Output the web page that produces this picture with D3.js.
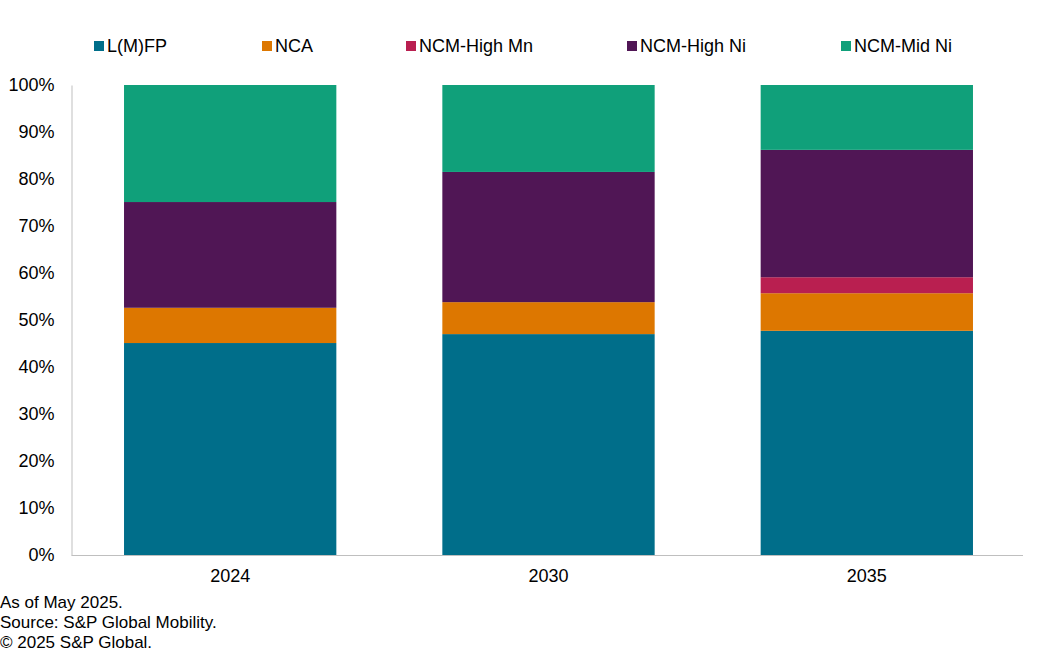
<!DOCTYPE html>
<html><head><meta charset="utf-8">
<script src="https://cdn.jsdelivr.net/npm/d3@7"></script>
<style>body{margin:0;background:#fff}svg{display:block;font-family:"Liberation Sans",Arial,sans-serif}</style>
</head><body><svg id="c" width="1037" height="654"></svg>
<script>
const categories = ["2024","2030","2035"];
const seriesNames = ["L(M)FP","NCA","NCM-High Mn","NCM-High Ni","NCM-Mid Ni"];
const colors = ["#006e8a","#dd7700","#b91f50","#501655","#10a07a"];
const lfp    = [45.1, 47.0, 47.7];
const nca    = [7.5, 6.8, 8.0];
const highMn = [0.0, 0.0, 3.4];
const highNi = [22.5, 27.7, 27.1];
const midNi  = [24.9, 18.5, 13.8];
const yTicks = [0,10,20,30,40,50,60,70,80,90,100];
const notes = ["As of May 2025.","Source: S&P Global Mobility.","© 2025 S&P Global."];

const values = [lfp, nca, highMn, highNi, midNi];
const rows = categories.map((c,i)=>{const r={cat:c}; seriesNames.forEach((s,j)=>r[s]=values[j][i]); return r;});
const stacked = d3.stack().keys(seriesNames)(rows);

const svg = d3.select("#c");
const m = {l:71.5, r:1023, t:85, b:555};
const x = d3.scaleBand().domain(categories).range([m.l, 1025.5]).paddingInner(0.333).paddingOuter(0.165);
const y = d3.scaleLinear().domain([0,100]).range([m.b, m.t]);

svg.append("g").selectAll("g").data(stacked).join("g").attr("fill",(d,i)=>colors[i])
  .selectAll("rect").data(d=>d).join("rect")
  .attr("x",d=>x(d.data.cat)).attr("width",x.bandwidth())
  .attr("y",d=>y(d[1])).attr("height",d=>y(d[0])-y(d[1]));

// y axis
const ya = svg.append("g").attr("transform",`translate(${m.l},0)`)
  .call(d3.axisLeft(y).tickValues(yTicks).tickFormat(d=>d+"%").tickSize(0).tickPadding(17));
ya.select(".domain").attr("stroke","#bfbfbf");
ya.selectAll("text").attr("font-size","18px").attr("fill","#000").attr("font-family","Liberation Sans, Arial, sans-serif");

// x axis
const xa = svg.append("g").attr("transform",`translate(0,${m.b})`)
  .call(d3.axisBottom(x).tickSize(0).tickPadding(14));
xa.select(".domain").attr("stroke","#bfbfbf").attr("d",`M${m.l},0.5H${m.r}`);
xa.selectAll("text").attr("font-size","18px").attr("fill","#000").attr("font-family","Liberation Sans, Arial, sans-serif");

// legend
const legX = [94, 262, 406, 627, 841];
const lg = svg.append("g").selectAll("g").data(seriesNames).join("g")
  .attr("transform",(d,i)=>`translate(${legX[i]},0)`);
lg.append("rect").attr("x",0).attr("y",41).attr("width",10).attr("height",10).attr("fill",(d,i)=>colors[i]);
lg.append("text").attr("x",13).attr("y",52).attr("font-size","18px").attr("fill","#000").text(d=>d);

// notes
svg.append("g").selectAll("text").data(notes).join("text")
  .attr("x",0).attr("y",(d,i)=>608+i*20).attr("font-size","17px").attr("fill","#000").text(d=>d);
</script></body></html>
